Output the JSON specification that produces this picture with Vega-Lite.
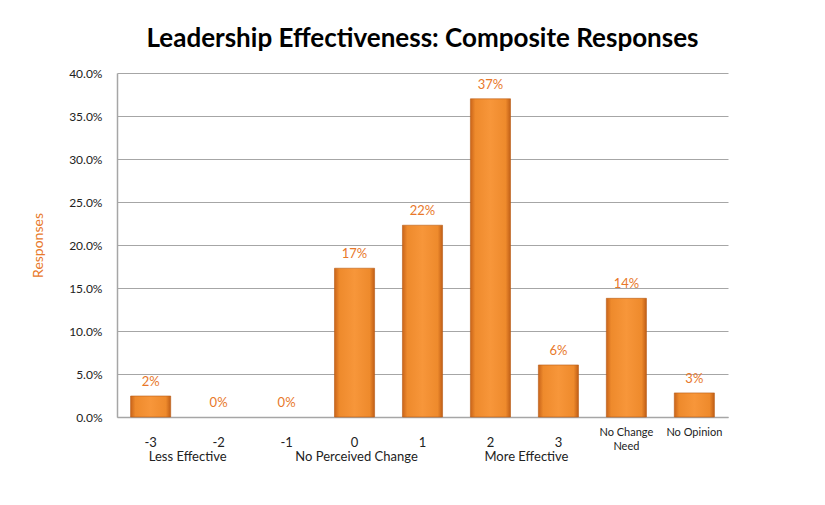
{
  "$schema": "https://vega.github.io/schema/vega-lite/v6.json",
  "autosize": "none",
  "width": 611,
  "height": 344,
  "padding": {"left": 117, "top": 73, "right": 97, "bottom": 88},
  "background": "white",
  "title": {
    "text": "Leadership Effectiveness: Composite Responses",
    "font": "Lato",
    "fontSize": 26,
    "fontWeight": "bold",
    "color": "#000000",
    "anchor": "middle",
    "offset": 15
  },
  "datasets": {
    "bars": [
      {"category": "-3", "share": 0.0244},
      {"category": "-2", "share": 0.0},
      {"category": "-1", "share": 0.0},
      {"category": "0", "share": 0.173},
      {"category": "1", "share": 0.223},
      {"category": "2", "share": 0.370},
      {"category": "3", "share": 0.0605},
      {"category": "No Change Need", "share": 0.138},
      {"category": "No Opinion", "share": 0.028}
    ]
  },
  "layer": [
    {
      "data": {"name": "bars"},
      "transform": [{"filter": "datum.share > 0"}],
      "mark": {
        "type": "bar",
        "stroke": "#B85A14",
        "strokeWidth": 0.6,
        "fill": {
          "gradient": "linear",
          "x1": 0, "y1": 0, "x2": 1, "y2": 0,
          "stops": [
            {"offset": 0, "color": "#C9641A"},
            {"offset": 0.12, "color": "#EE8A2C"},
            {"offset": 0.5, "color": "#F7963A"},
            {"offset": 0.88, "color": "#EE8A2C"},
            {"offset": 1, "color": "#C05E16"}
          ]
        }
      },
      "encoding": {
        "x": {
          "field": "category",
          "type": "ordinal",
          "sort": ["-3", "-2", "-1", "0", "1", "2", "3", "No Change Need", "No Opinion"],
          "scale": {"domain": ["-3", "-2", "-1", "0", "1", "2", "3", "No Change Need", "No Opinion"], "paddingInner": 0.41, "paddingOuter": 0.2},
          "axis": {
            "title": null,
            "labelAngle": 0,
            "ticks": false,
            "domainColor": "#A6A6A6",
            "domainWidth": 1.5,
            "labelFont": "Lato",
            "labelColor": "#222222",
            "labelBaseline": "top",
            "labelLineHeight": 14,
            "labelPadding": {"condition": {"test": "indexof(['No Change Need', 'No Opinion'], datum.value) >= 0", "value": 9}, "value": 19},
            "labelFontSize": {"condition": {"test": "indexof(['No Change Need', 'No Opinion'], datum.value) >= 0", "value": 11}, "value": 13},
            "labelExpr": "datum.value == 'No Change Need' ? ['No Change', 'Need'] : datum.value"
          }
        },
        "y": {
          "field": "share",
          "type": "quantitative",
          "scale": {"domain": [0, 0.4]},
          "axis": {
            "title": "Responses",
            "titleColor": "#E8782A",
            "titleFont": "Lato",
            "titleFontSize": 14,
            "titleFontWeight": "normal",
            "titleX": -72,
            "values": [0, 0.05, 0.1, 0.15, 0.2, 0.25, 0.3, 0.35, 0.4],
            "format": ".1%",
            "ticks": false,
            "labelPadding": 15,
            "labelFont": "Lato",
            "labelFontSize": 12,
            "labelColor": "#222222",
            "domainColor": "#A6A6A6",
            "domainWidth": 1.5,
            "gridColor": "#A6A6A6",
            "gridWidth": 1
          }
        }
      }
    },
    {
      "data": {"name": "bars"},
      "mark": {
        "type": "text",
        "font": "Lato",
        "fontSize": 13,
        "color": "#E8782A",
        "baseline": "middle",
        "dy": -14
      },
      "encoding": {
        "x": {"field": "category", "type": "ordinal", "sort": null},
        "y": {"field": "share", "type": "quantitative"},
        "text": {"field": "share", "type": "quantitative", "format": ".0%"}
      }
    },
    {
      "data": {"values": [{"category": "-3", "group": "Less Effective", "base": 0}]},
      "mark": {"type": "text", "font": "Lato", "fontSize": 13, "color": "#222222", "baseline": "middle", "dy": 40, "dx": 37},
      "encoding": {
        "x": {"field": "category", "type": "ordinal", "sort": null},
        "y": {"field": "base", "type": "quantitative"},
        "text": {"field": "group"}
      }
    },
    {
      "data": {"values": [{"category": "0", "group": "No  Perceived Change", "base": 0}]},
      "mark": {"type": "text", "font": "Lato", "fontSize": 13, "color": "#222222", "baseline": "middle", "dy": 40, "dx": 2},
      "encoding": {
        "x": {"field": "category", "type": "ordinal", "sort": null},
        "y": {"field": "base", "type": "quantitative"},
        "text": {"field": "group"}
      }
    },
    {
      "data": {"values": [{"category": "2", "group": "More Effective", "base": 0}]},
      "mark": {"type": "text", "font": "Lato", "fontSize": 13, "color": "#222222", "baseline": "middle", "dy": 40, "dx": 36},
      "encoding": {
        "x": {"field": "category", "type": "ordinal", "sort": null},
        "y": {"field": "base", "type": "quantitative"},
        "text": {"field": "group"}
      }
    }
  ],
  "config": {
    "view": {"stroke": null}
  }
}
